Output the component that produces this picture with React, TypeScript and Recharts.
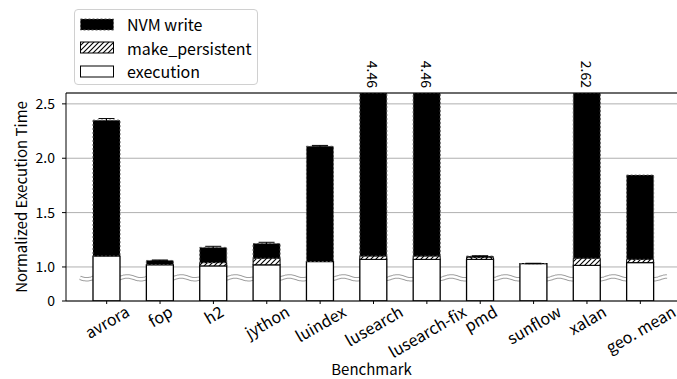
import React from 'react';
import { BarChart, Bar, XAxis, YAxis, CartesianGrid, ReferenceLine, ReferenceArea, ErrorBar, LabelList, Label } from 'recharts';

const FONT = '"Noto Sans CJK JP", "Noto Sans", sans-serif';

const categories = ['avrora', 'fop', 'h2', 'jython', 'luindex', 'lusearch', 'lusearch-fix', 'pmd', 'sunflow', 'xalan', 'geo. mean'];
const execution = [1.1, 1.02, 1.01, 1.02, 1.05, 1.07, 1.07, 1.07, 1.03, 1.015, 1.04];
const makePersistent = [0, 0, 0.03, 0.06, 0, 0.03, 0.03, 0.018, 0, 0.065, 0.03];
const totals = [2.35, 1.06, 1.18, 1.215, 2.11, 4.46, 4.46, 1.1, 1.032, 2.62, 1.845];
const errors = [0.015, 0.004, 0.01, 0.012, 0.008, 0, 0, 0.003, 0.002, 0, 0];
const overflowLabels = ['', '', '', '', '', '4.46', '4.46', '', '', '2.62', ''];
const yTickValues = [0, 1.0, 1.5, 2.0, 2.5];
const yTickLabels = ['0', '1.0', '1.5', '2.0', '2.5'];

const BREAK = 0.9;
const LOW = 0.213;
const TOP_VALUE = 2.6;
const f = (v: number) => (v <= BREAK ? (v * LOW) / BREAK : LOW + (v - BREAK));
const TOP = f(TOP_VALUE);

const data = categories.map((c, i) => ({
  name: c,
  exec: f(execution[i]),
  mp: f(execution[i] + makePersistent[i]) - f(execution[i]),
  nvm: f(totals[i]) - f(execution[i] + makePersistent[i]),
  err: errors[i],
  label: overflowLabels[i],
}));

const yTicks = yTickValues.map(f);

let measureCtx: CanvasRenderingContext2D | null = null;
const measure = (s: string, size: number) => {
  if (!measureCtx) {
    const c = document.createElement('canvas');
    measureCtx = c.getContext('2d');
  }
  if (!measureCtx) return s.length * size * 0.55;
  measureCtx.font = `${size}px ${FONT}`;
  return measureCtx.measureText(s).width;
};

const XTick = (props: any) => {
  const { x, y, payload } = props;
  const size = 16;
  const w = measure(String(payload.value), size);
  const ang = (30 * Math.PI) / 180;
  const H = w * Math.sin(ang) + size * 0.62 * Math.cos(ang);
  const cy = y - 3 + H / 2;
  return (
    <text
      x={x}
      y={cy}
      textAnchor="middle"
      dominantBaseline="central"
      fontSize={size}
      fontFamily={FONT}
      fill="#000"
      transform={`rotate(-30, ${x}, ${cy})`}
    >
      {payload.value}
    </text>
  );
};

const WaveShape = (props: any) => {
  const { x, y, width, height } = props;
  const cy = y + height / 2;
  let d = '';
  for (let px = 0; px <= width; px += 1) {
    const yy = cy + 1.4 * Math.sin((2 * Math.PI * px) / 27);
    d += (px === 0 ? 'M' : 'L') + (x + px).toFixed(1) + ',' + yy.toFixed(2);
  }
  return (
    <g>
      <path d={d} stroke="#a0a0a0" strokeWidth={4.5} fill="none" />
      <path d={d} stroke="#fff" strokeWidth={2.5} fill="none" />
    </g>
  );
};

const OverflowLabel = (props: any) => {
  const { x, width, value } = props;
  if (!value) return null;
  const cx = x + width / 2;
  const yy = 88;
  return (
    <text
      x={cx}
      y={yy}
      textAnchor="end"
      dominantBaseline="central"
      fontSize={14}
      fontFamily={FONT}
      fill="#000"
      transform={`rotate(90, ${cx}, ${yy})`}
    >
      {value}
    </text>
  );
};

const Swatch = ({ kind }: { kind: string }) => (
  <svg width={34} height={13} style={{ display: 'block' }}>
    <defs>
      <pattern id={`lh-${kind}`} patternUnits="userSpaceOnUse" width={5} height={5}>
        <path d="M0,5 L5,0 M-1.25,1.25 L1.25,-1.25 M3.75,6.25 L6.25,3.75" stroke="#000" strokeWidth={1.1} />
      </pattern>
    </defs>
    {kind === 'nvm' && <rect x={0.5} y={1} width={33} height={11} fill="#000" stroke="#555" strokeDasharray="2 2" />}
    {kind === 'mp' && <rect x={0.5} y={1} width={33} height={11} fill={`url(#lh-${kind})`} stroke="#000" strokeWidth={1} />}
    {kind === 'exec' && <rect x={0.5} y={1} width={33} height={11} fill="#fff" stroke="#000" strokeWidth={1} />}
  </svg>
);

const legendItems = [
  { kind: 'nvm', text: 'NVM write' },
  { kind: 'mp', text: 'make_persistent' },
  { kind: 'exec', text: 'execution' },
];

export default function App() {
  return (
    <div style={{ position: 'relative', width: 677, height: 379, fontFamily: FONT, overflow: 'hidden' }}>
      <style>{'body{margin:0}'}</style>
      <BarChart width={677} height={379} data={data} margin={{ top: 93, right: 0, bottom: 18, left: 16 }} barSize={27}>
        <defs>
          <pattern id="hatch" patternUnits="userSpaceOnUse" width={5} height={5}>
            <rect width={5} height={5} fill="#fff" />
            <path d="M0,5 L5,0 M-1.25,1.25 L1.25,-1.25 M3.75,6.25 L6.25,3.75" stroke="#000" strokeWidth={1.1} />
          </pattern>
        </defs>
        <CartesianGrid vertical={false} stroke="#b0b0b0" strokeWidth={1} />
        <XAxis
          dataKey="name"
          interval={0}
          padding={{ left: 14, right: 10 }}
          height={60}
          tickSize={3}
          tickMargin={4}
          tick={<XTick />}
          axisLine={{ stroke: '#000' }}
          tickLine={{ stroke: '#000' }}
        >
          <Label
            content={(p: any) => {
              const vb = p.viewBox || {};
              const cx = vb.x + vb.width / 2;
              return (
                <text x={cx} y={368} textAnchor="middle" dominantBaseline="central" fontSize={15} fontFamily={FONT} fill="#000">
                  Benchmark
                </text>
              );
            }}
          />
        </XAxis>
        <YAxis
          type="number"
          domain={[0, TOP]}
          allowDataOverflow
          ticks={yTicks}
          width={50}
          tickSize={4}
          tickMargin={7}
          interval={0}
          tickFormatter={(v: number) => {
            let best = 0;
            yTicks.forEach((t, i) => {
              if (Math.abs(t - v) < Math.abs(yTicks[best] - v)) best = i;
            });
            return yTickLabels[best];
          }}
          tick={{ fontSize: 14, fontFamily: FONT, fill: '#000' }}
          axisLine={{ stroke: '#000' }}
          tickLine={{ stroke: '#000' }}
        >
          <Label
            content={(p: any) => {
              const vb = p.viewBox || {};
              const cy = vb.y + vb.height / 2;
              return (
                <text
                  x={20}
                  y={cy}
                  textAnchor="middle"
                  dominantBaseline="central"
                  fontSize={15}
                  fontFamily={FONT}
                  fill="#000"
                  transform={`rotate(-90, 20, ${cy})`}
                >
                  Normalized Execution Time
                </text>
              );
            }}
          />
        </YAxis>
        <Bar dataKey="exec" stackId="a" fill="#fff" stroke="#000" strokeWidth={1.3} isAnimationActive={false} />
        <Bar dataKey="mp" stackId="a" fill="url(#hatch)" stroke="#000" strokeWidth={1} isAnimationActive={false} />
        <Bar dataKey="nvm" stackId="a" fill="#000" stroke="#555" strokeDasharray="2 2" strokeWidth={1} isAnimationActive={false}>
          <ErrorBar dataKey="err" width={8} stroke="#000" strokeWidth={1} direction="y" />
          <LabelList dataKey="label" content={<OverflowLabel />} />
        </Bar>
        <ReferenceLine y={TOP} stroke="#000" strokeWidth={1.2} ifOverflow="visible" />
        <ReferenceArea y1={LOW - 0.02} y2={LOW + 0.02} ifOverflow="visible" shape={<WaveShape />} />
      </BarChart>
      <div
        style={{
          position: 'absolute',
          left: 74,
          top: 9,
          width: 182,
          height: 74,
          border: '1px solid #d0d0d0',
          borderRadius: 4,
          background: '#fff',
          boxSizing: 'content-box',
        }}
      >
        {legendItems.map((it, i) => (
          <div
            key={it.kind}
            style={{ position: 'absolute', left: 5, top: 6 + i * 23.7, height: 16, display: 'flex', alignItems: 'center' }}
          >
            <Swatch kind={it.kind} />
            <span style={{ marginLeft: 13, fontSize: 16, lineHeight: '16px', color: '#000', whiteSpace: 'nowrap' }}>{it.text}</span>
          </div>
        ))}
      </div>
    </div>
  );
}
